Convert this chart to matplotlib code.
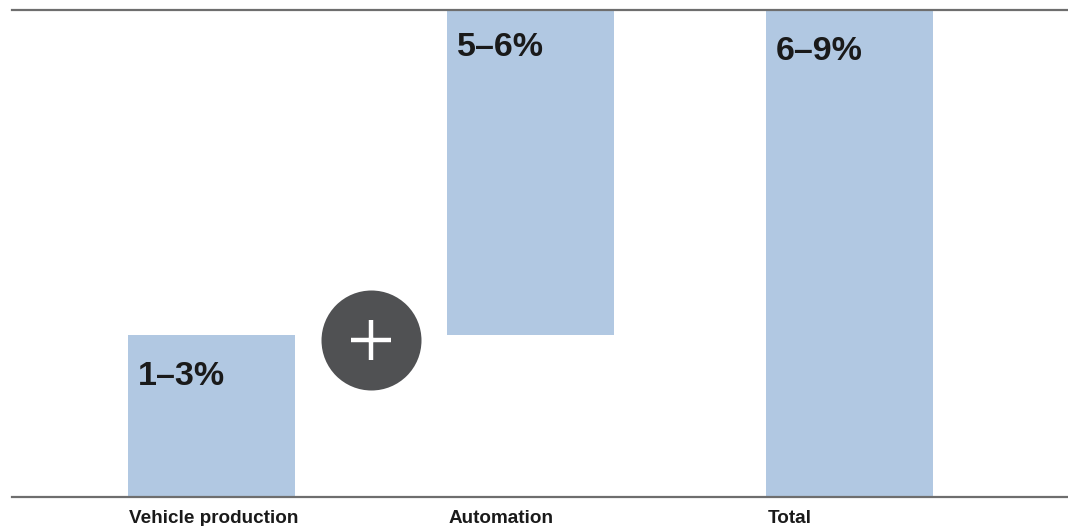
import matplotlib.pyplot as plt
import numpy as np

plt.rcParams['font.family'] = ['Liberation Sans', 'DejaVu Sans']

categories = ["Vehicle production", "Automation", "Total"]
bar_bottoms = [0, 2, 0]
bar_heights = [2, 4, 6]
value_labels = ["1\u20133%", "5\u20136%", "6\u20139%"]

bar_color = '#b1c8e2'
line_color = '#6e6e6e'
circle_color = '#505153'


def main():
    fig = plt.figure(figsize=(10.68, 5.26), dpi=100)
    ax = fig.add_axes([12 / 1068, 29 / 526, 1056 / 1068, 487 / 526])

    x = np.arange(len(categories))
    width = 0.523
    ax.bar(x, bar_heights, bottom=bar_bottoms, width=width, color=bar_color, zorder=2)

    ax.set_xlim(-0.625, 2.683)
    ax.set_ylim(0, 6)

    for i in range(len(categories)):
        left = x[i] - width / 2
        top = bar_bottoms[i] + bar_heights[i]
        off = -42 if i == 0 else (-37 if i == 1 else -41)
        ax.annotate(value_labels[i], (left, top), xytext=(7, off * 0.72),
                    textcoords='offset points', ha='left', va='center',
                    fontsize=24.5, fontweight='bold', color='#1a1a1a', zorder=4)
        ax.annotate(categories[i], (left, 0), xytext=(1, -15.5),
                    textcoords='offset points', ha='left', va='center',
                    fontsize=13.6, fontweight='bold', color='#1a1a1a',
                    annotation_clip=False)

    # plus sign between first two bars
    cx = (x[0] + x[1]) / 2
    cy = bar_heights[0] - 0.07
    ax.plot([cx], [cy], marker='o', markersize=72, color=circle_color,
            markeredgewidth=0, zorder=5, clip_on=False)
    ax.plot([cx], [cy], marker='+', markersize=29, color='white',
            markeredgewidth=3.2, zorder=6, clip_on=False)

    for side in ['left', 'right']:
        ax.spines[side].set_visible(False)
    for side in ['top', 'bottom']:
        ax.spines[side].set_color(line_color)
        ax.spines[side].set_linewidth(1.6)
        ax.spines[side].set_zorder(3)
    ax.set_xticks([])
    ax.set_yticks([])

    fig.savefig("out.png", dpi=100)
    plt.close(fig)


if __name__ == "__main__":
    main()
